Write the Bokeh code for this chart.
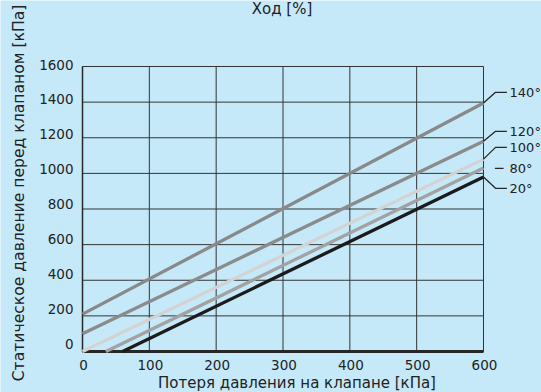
import math
from bokeh.plotting import figure
from bokeh.models import Range1d
from bokeh.core.properties import value
from bokeh.embed import file_html
from bokeh.resources import INLINE

# ---- data ----
x_ticks = [0, 100, 200, 300, 400, 500, 600]
y_ticks = [0, 200, 400, 600, 800, 1000, 1200, 1400, 1600]
x_tick_labels = ["0", "100", "200", "300", "400", "500", "600"]
y_tick_labels = ["0", "200", "400", "600", "800", "1000", "1200", "1400", "1600"]
series_names = ["140°", "120°", "100°", "80°", "20°"]
x_start = [0, 0, 0, 35, 60]
y_start = [210, 100, 0, 0, 0]
x_end = [600, 600, 600, 600, 600]
y_end = [1395, 1180, 1080, 1030, 980]
label_y = [1455, 1236, 1146, 1028, 916]

title_text = "Ход [%]"
x_label = "Потеря давления на клапане [кПа]"
y_label = "Статическое давление перед клапаном [кПа]"

# ---- layout (pixels) ----
W, H = 541, 392
PX_X0, PX_X1 = 82.0, 483.0     # pixel of x = first / last tick
PX_Y0, PX_Y1 = 351.0, 66.0     # pixel of y = first / last tick
sx = (PX_X1 - PX_X0) / (x_ticks[-1] - x_ticks[0])
sy = (PX_Y0 - PX_Y1) / (y_ticks[-1] - y_ticks[0])
x_lo = x_ticks[0] - PX_X0 / sx
x_hi = x_ticks[0] + (W - PX_X0) / sx
y_lo = y_ticks[0] - (H - PX_Y0) / sy
y_hi = y_ticks[0] + PX_Y0 / sy

# ---- style ----
BG = "#c6e9f9"
GRID = "#333333"
AXIS = "#262626"
colors = ["#898989", "#8b8b8b", "#d3d3d3", "#a2a2a2", "#1b1b1b"]
FONT = "DejaVu Sans"
TXT = "#222222"

p = figure(width=W, height=H, output_backend="svg", toolbar_location=None,
           x_range=Range1d(x_lo, x_hi), y_range=Range1d(y_lo, y_hi),
           x_axis_location=None, y_axis_location=None,
           min_border_left=0, min_border_right=0, min_border_top=0, min_border_bottom=0)
p.background_fill_color = BG
p.border_fill_color = BG
p.outline_line_color = None
p.xgrid.visible = False
p.ygrid.visible = False

xmin, xmax = x_ticks[0], x_ticks[-1]
ymin, ymax = y_ticks[0], y_ticks[-1]

# grid lines
p.segment(x0=[xmin] * len(y_ticks), y0=y_ticks, x1=[xmax] * len(y_ticks), y1=y_ticks,
          line_color=GRID, line_width=1)
p.segment(x0=x_ticks, y0=[ymin] * len(x_ticks), x1=x_ticks, y1=[ymax] * len(x_ticks),
          line_color=GRID, line_width=1)

# axis lines
p.segment(x0=[xmin], y0=[ymin], x1=[xmin], y1=[ymax], line_color=AXIS, line_width=1.5)
p.segment(x0=[xmin], y0=[ymin], x1=[xmax], y1=[ymin], line_color=AXIS, line_width=3)

# tick labels (y labels sit slightly above their grid lines, more so near the bottom)
y_lab_off = [-(8 - 6 * (t - ymin) / (ymax - ymin)) for t in y_ticks]
p.text(x=[xmin] * len(y_ticks), y=y_ticks, text=y_tick_labels, x_offset=-9, y_offset=y_lab_off,
       text_font=value(FONT), text_font_size=value("13.5px"), text_color=TXT,
       text_align="right", text_baseline="middle")
p.text(x=x_ticks, y=[ymin] * len(x_ticks), text=x_tick_labels, x_offset=1, y_offset=13,
       text_font=value(FONT), text_font_size=value("13.5px"), text_color=TXT,
       text_align="center", text_baseline="middle")

# series lines
for i in range(len(series_names)):
    p.line([x_start[i], x_end[i]], [y_start[i], y_end[i]], line_color=colors[i], line_width=3.3)

# leaders and labels
for i, name in enumerate(series_names):
    ye, yl = y_end[i], label_y[i]
    if abs(ye - yl) < 20:
        p.line([xmax + 17, xmax + 30], [yl, yl], line_color=AXIS, line_width=1.3)
    else:
        p.line([xmax, xmax + 18, xmax + 35], [ye, yl, yl], line_color=AXIS, line_width=1.3)
p.text(x=[xmax + 39] * len(series_names), y=label_y, text=series_names,
       text_font=value(FONT), text_font_size=value("13px"), text_color=TXT,
       text_align="left", text_baseline="middle")

# titles
mid_x = (xmin + xmax) / 2
mid_y = (ymin + ymax) / 2
p.text(x=[mid_x], y=[ymax], text=[title_text], x_offset=-1, y_offset=-58,
       text_font=value(FONT), text_font_size=value("15px"), text_color=TXT,
       text_align="center", text_baseline="middle")
p.text(x=[mid_x], y=[ymin], text=[x_label], x_offset=14, y_offset=31,
       text_font=value(FONT), text_font_size=value("15px"), text_color=TXT,
       text_align="center", text_baseline="middle")
p.text(x=[xmin], y=[mid_y], text=[y_label], x_offset=-64, y_offset=-16, angle=math.pi / 2,
       text_font=value(FONT), text_font_size=value("15.6px"), text_color=TXT,
       text_align="center", text_baseline="middle")

html = file_html(p, INLINE)
html = html.replace("<body>", '<body style="background-color:%s;">' % BG, 1)
open("out.html", "w").write(html)
